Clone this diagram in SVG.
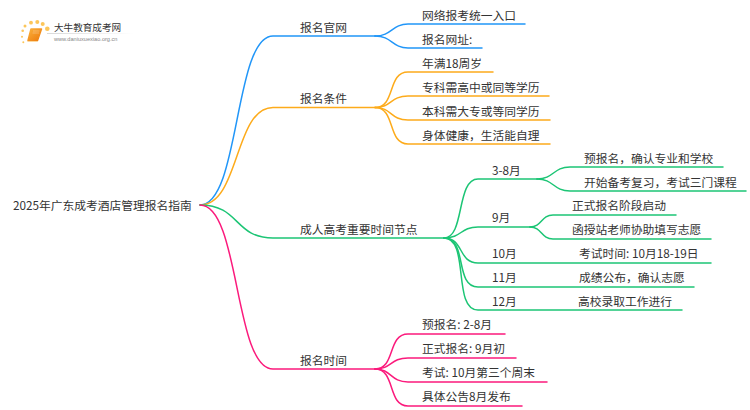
<svg xmlns="http://www.w3.org/2000/svg" width="750" height="410" viewBox="0 0 750 410">
<defs>
<linearGradient id="book" x1="0" y1="0" x2="1" y2="1"><stop offset="0" stop-color="#fbb03b"/><stop offset="1" stop-color="#ec7a0c"/></linearGradient>
<linearGradient id="rule" x1="0" y1="0" x2="1" y2="0"><stop offset="0" stop-color="#d8d8d8"/><stop offset="1" stop-color="#ffffff"/></linearGradient>
</defs>
<style>
text{font-family:"Noto Sans CJK SC","Liberation Sans",sans-serif;font-size:11.75px;fill:#333}
.c{fill:none;stroke-width:1.5;stroke-linecap:round}
.b{stroke:#2196f8}.o{stroke:#fdab1b}.g{stroke:#1cc575}.r{stroke:#fb1a7c}
.d{fill:#fcc65a}
</style>
<rect width="750" height="410" fill="#fff"/>
<g id="connectors">
<path class="c b" d="M200 205C240 205 234 36 273 36H375"/>
<path class="c o" d="M200 205C240 205 234 107.500 273 107.500H375"/>
<path class="c g" d="M200 205C240 205 234 238 273 238H444"/>
<path class="c r" d="M200 205C240 205 234 369 273 369H375"/>
<path class="c b" d="M375 36C392 36 392 24 408 24H525"/>
<path class="c b" d="M375 36C392 36 392 48 408 48H482"/>
<path class="c o" d="M375 107.500C396 107.500 387 72 408 72H493"/>
<path class="c o" d="M375 107.500C392 107.500 390 96 408 96H549"/>
<path class="c o" d="M375 107.500C392 107.500 390 120 408 120H550"/>
<path class="c o" d="M375 107.500C396 107.500 387 144 408 144H550"/>
<path class="c g" d="M444 238C465 238 456 179 478 179H537"/>
<path class="c g" d="M444 238C462 238 460 227 478 227H530"/>
<path class="c g" d="M444 238C464 238 458 263 478 263H711"/>
<path class="c g" d="M444 238C468 238 454 287 478 287H694"/>
<path class="c g" d="M444 238C470 238 452 310 478 310H682"/>
<path class="c g" d="M537 179C554 179 553 167 570 167H723"/>
<path class="c g" d="M537 179C554 179 553 191 570 191H746"/>
<path class="c g" d="M530 227C542 227 541 215 553 215H676"/>
<path class="c g" d="M530 227C542 227 541 239 553 239H711"/>
<path class="c r" d="M375 369C396 369 387 334 408 334H505"/>
<path class="c r" d="M375 369C392 369 390 358 408 358H516"/>
<path class="c r" d="M375 369C392 369 390 382 408 382H547"/>
<path class="c r" d="M375 369C396 369 387 406 408 406H522"/>
</g>
<g id="logo">
<circle class="d" cx="22.700" cy="30.700" r="1.300"/><circle class="d" cx="25" cy="26" r="1.500"/><circle class="d" cx="31" cy="22.700" r="1.900"/><circle class="d" cx="37.300" cy="22" r="2"/><circle class="d" cx="42.700" cy="24" r="2"/><circle class="d" cx="47.300" cy="28.700" r="2.300"/><circle class="d" cx="22" cy="36.700" r="1"/><circle class="d" cx="23.300" cy="42.300" r="1"/>
<path d="M31 29H41.500L37.500 40.500H28Z" fill="url(#book)" stroke="url(#book)" stroke-width="1.500" stroke-linejoin="round"/>
<path d="M27.500 41.500H37.500" stroke="#fbd9a0" stroke-width="1"/>
<path d="M33 31H39.500M32.500 33H39" stroke="#fff" stroke-width="0.500" opacity="0.600"/>
<rect x="47" y="33" width="87" height="1" fill="url(#rule)"/>
<text x="54" y="31" style="font-size:9.600px">大牛教育成考网</text>
<text x="54" y="41" style="font-size:5.600px;fill:#888;font-family:'Liberation Sans',sans-serif">www.daniuxuexiao.org.cn</text>
</g>
<g id="root"><text x="13" y="209.500">2025年广东成考酒店管理报名指南</text></g>
<g id="n1"><text x="300" y="31.500">报名官网</text></g>
<g id="n1a"><text x="422" y="19.500">网络报考统一入口</text></g>
<g id="n1b"><text x="422" y="43.500">报名网址:</text></g>
<g id="n2"><text x="300" y="103">报名条件</text></g>
<g id="n2a"><text x="422" y="67.500">年满18周岁</text></g>
<g id="n2b"><text x="422" y="91.500">专科需高中或同等学历</text></g>
<g id="n2c"><text x="422" y="115.500">本科需大专或等同学历</text></g>
<g id="n2d"><text x="422" y="139.500">身体健康，生活能自理</text></g>
<g id="n3"><text x="300" y="233.500">成人高考重要时间节点</text></g>
<g id="n3a"><text x="492" y="174.500">3-8月</text></g>
<g id="n3a1"><text x="584" y="162.500">预报名，确认专业和学校</text></g>
<g id="n3a2"><text x="584" y="186.500">开始备考复习，考试三门课程</text></g>
<g id="n3b"><text x="492" y="222">9月</text></g>
<g id="n3b1"><text x="572" y="210">正式报名阶段启动</text></g>
<g id="n3b2"><text x="572" y="234">函授站老师协助填写志愿</text></g>
<g id="n3c"><text x="492" y="258">10月</text></g>
<g id="n3c1"><text x="579" y="258">考试时间: 10月18-19日</text></g>
<g id="n3d"><text x="492" y="282">11月</text></g>
<g id="n3d1"><text x="579" y="282">成绩公布，确认志愿</text></g>
<g id="n3e"><text x="492" y="306">12月</text></g>
<g id="n3e1"><text x="578" y="306">高校录取工作进行</text></g>
<g id="n4"><text x="300" y="365">报名时间</text></g>
<g id="n4a"><text x="422" y="329">预报名: 2-8月</text></g>
<g id="n4b"><text x="422" y="353">正式报名: 9月初</text></g>
<g id="n4c"><text x="422" y="377">考试: 10月第三个周末</text></g>
<g id="n4d"><text x="422" y="401">具体公告8月发布</text></g>
</svg>
